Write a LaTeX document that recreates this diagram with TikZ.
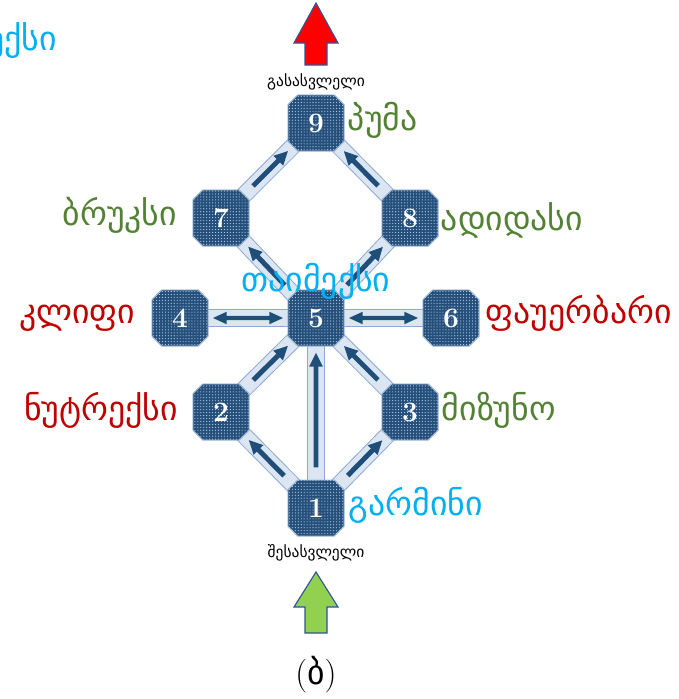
\documentclass[tikz,border=0pt]{standalone}
\usepackage{fontspec}
\newfontfamily\geo{DejaVu Sans}
\usetikzlibrary{shapes.misc,arrows.meta,patterns.meta,backgrounds}

\definecolor{boxblue}{RGB}{38,80,124}
\definecolor{boxedge}{RGB}{160,185,215}
\definecolor{dotcol}{RGB}{195,212,235}
\definecolor{hallfill}{RGB}{220,230,242}
\definecolor{hallline}{RGB}{140,170,210}
\definecolor{flowblue}{RGB}{31,78,121}
\definecolor{brandgreen}{RGB}{84,130,53}
\definecolor{brandred}{RGB}{192,0,0}
\definecolor{brandcyan}{RGB}{0,176,240}
\definecolor{goin}{RGB}{146,208,80}
\definecolor{goout}{RGB}{255,0,0}
\definecolor{arrowline}{RGB}{47,85,151}

\tikzset{
  room/.style={chamfered rectangle, chamfered rectangle xsep=0.14cm,
    minimum width=1.4cm, minimum height=1.4cm, inner sep=0pt,
    fill=boxblue, draw=boxedge, line width=0.7pt, text=white,
    font=\bfseries\fontsize{20}{20}\selectfont,
    postaction={pattern={Dots[distance=2.1pt,radius=0.4pt]}, pattern color=dotcol}},
  hall/.style={draw=hallline, line width=0.7pt, double=hallfill, double distance=0.38cm},
  flow/.style={draw=flowblue, line width=3.5pt, -{Triangle[width=9pt,length=10pt]},
    shorten <=0.3cm, shorten >=0.15cm},
  both/.style={draw=flowblue, line width=3pt,
    {Triangle[width=8pt,length=10pt]}-{Triangle[width=8pt,length=10pt]},
    shorten <=0.1cm, shorten >=0.1cm},
  brand/.style={font=\geo\fontsize{24}{28}\selectfont},
  door/.style={font=\geo\fontsize{11}{13}\selectfont},
}

\begin{document}
\begin{tikzpicture}[x=0.025cm,y=-0.025cm]
	\useasboundingbox (0,0) rectangle (679,699);

	% rooms
	\node[room] (r9) at (316,123) {9};
	\node[room] (r7) at (221,218) {7};
	\node[room] (r8) at (410,218) {8};
	\node[room] (r4) at (180,318) {4};
	\node[room] (r5) at (316,318) {5};
	\node[room] (r6) at (451,318) {6};
	\node[room] (r2) at (221,412) {2};
	\node[room] (r3) at (410,412) {3};
	\node[room] (r1) at (316,508) {1};

	\begin{scope}[on background layer]
		\foreach \a/\b in {1/2,1/3,1/5,2/5,3/5,5/4,5/6,5/7,5/8,7/9,8/9}
			\draw[hall] (r\a.center) -- (r\b.center);
	\end{scope}

	\foreach \a/\b in {1/2,1/3,1/5,2/5,3/5,5/7,5/8,7/9,8/9}
		\draw[flow] (r\a) -- (r\b);
	\draw[both] (r4) -- (r5);
	\draw[both] (r5) -- (r6);

	% brands
	\node[brand, text=brandgreen, anchor=west] (puma) at (343,120) {პუმა};
	\node[brand, text=brandgreen, anchor=east] (brooks) at (182,215) {ბრუკსი};
	\node[brand, text=brandgreen, anchor=west] (adidas) at (436,220) {ადიდასი};
	\node[brand, text=brandcyan] (timex) at (316,281) {თაიმექსი};
	\node[brand, text=brandred, anchor=east] (clif) at (140,318) {კლიფი};
	\node[brand, text=brandred, anchor=west] (power) at (481,313) {ფაუერბარი};
	\node[brand, text=brandred, anchor=east] (nutrex) at (183,410) {ნუტრექსი};
	\node[brand, text=brandgreen, anchor=west] (mizuno) at (437,410) {მიზუნო};
	\node[brand, text=brandcyan, anchor=west] (garmin) at (344,505) {გარმინი};
	\node[brand, text=brandcyan, anchor=east] (prev) at (62,40) {თაიმექსი};

	% doors
	\node[door] (exit) at (316,82) {გასასვლელი};
	\node[door] (entry) at (316,553) {შესასვლელი};
	\draw[fill=goout, draw=arrowline, line width=0.8pt] (316,3) -- (338,43) -- (327,43) -- (327,65)
		-- (305,65) -- (305,43) -- (294,43) -- cycle;
	\draw[fill=goin, draw=arrowline, line width=0.8pt] (316,572) -- (338,607) -- (327,607) -- (327,633)
		-- (305,633) -- (305,607) -- (294,607) -- cycle;

	\node[font=\fontsize{24}{28}\selectfont] (cap) at (316,675) {({\geo ბ})};
\end{tikzpicture}
\end{document}
